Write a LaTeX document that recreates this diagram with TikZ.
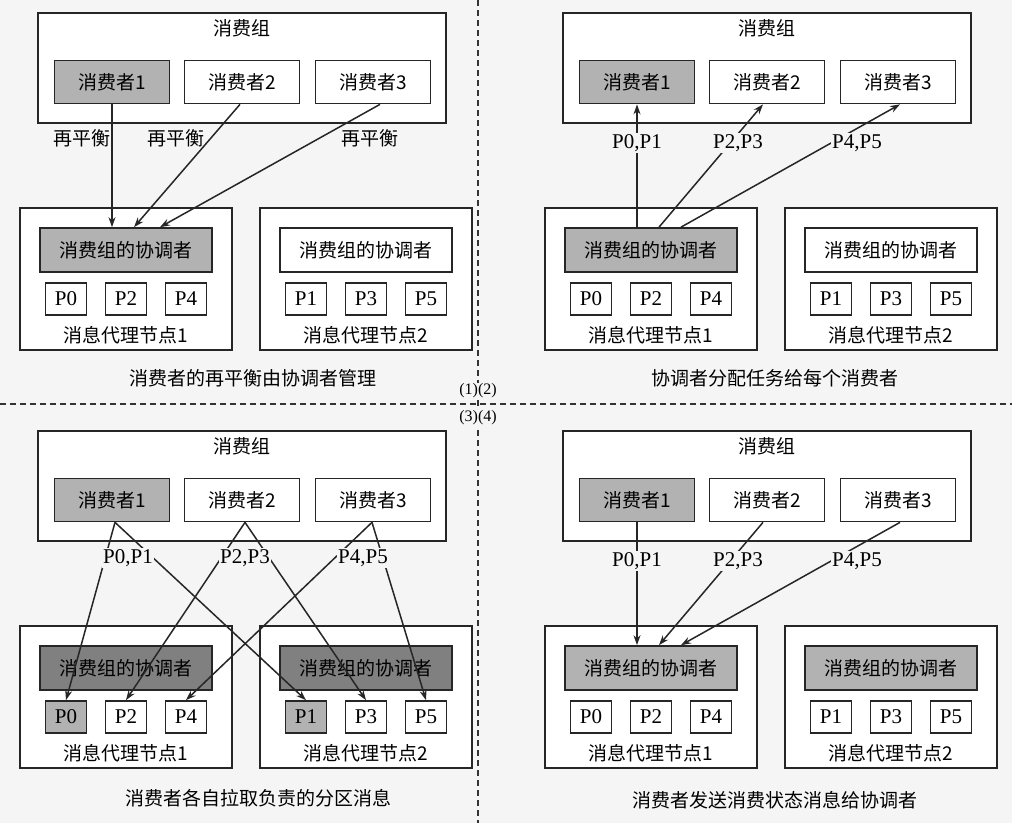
\documentclass[tikz,border=0pt]{standalone}
\usepackage{fontspec}
\setmainfont{Liberation Serif}
\newfontfamily\cjk{Noto Sans CJK SC}
\usetikzlibrary{arrows.meta}
\tikzset{
  box/.style={draw=black!85, line width=1.7pt, fill=white, inner sep=0pt, font=\fontsize{19}{21}\selectfont\cjk},
  txt/.style={inner sep=1pt, font=\fontsize{19}{21}\selectfont\cjk},
  ptxt/.style={inner sep=1pt, fill=black!4, font=\fontsize{21}{23}\selectfont},
  arr/.style={-{Stealth[length=10pt,width=7pt]}, line width=1.5pt, black!85},
  cons/.style={box, minimum width=115pt, minimum height=43pt},
  grp/.style={box, minimum width=408pt, minimum height=110pt},
  brk/.style={box, minimum width=212pt, minimum height=142pt},
  crd/.style={box, minimum width=172pt, minimum height=44pt},
  part/.style={box, minimum width=41pt, minimum height=32pt, font=\fontsize{21}{23}\selectfont},
}
\newcommand\myquad[5]{%
  \node[grp] (#1grp) at (242,-68) {};
  \node[txt] (#1gl) at (242,-28) {消费组};
  \node[cons, fill=#2] (#1c1) at (112,-82) {消费者1};
  \node[cons] (#1c2) at (242,-82) {消费者2};
  \node[cons] (#1c3) at (373,-82) {消费者3};
  \node[brk] (#1b1) at (126,-279) {};
  \node[crd, fill=#3] (#1k1) at (126,-250) {消费组的协调者};
  \node[part, fill=#4] (#1p0) at (66,-299) {P0};
  \node[part] (#1p2) at (126,-299) {P2};
  \node[part] (#1p4) at (186,-299) {P4};
  \node[txt] (#1l1) at (126,-335) {消息代理节点1};
  \node[brk] (#1b2) at (366,-279) {};
  \node[crd, fill=#5] (#1k2) at (366,-250) {消费组的协调者};
  \node[part, fill=#4] (#1p1) at (306,-299) {P1};
  \node[part] (#1p3) at (366,-299) {P3};
  \node[part] (#1p5) at (426,-299) {P5};
  \node[txt] (#1l2) at (366,-335) {消息代理节点2};
}
\begin{document}
\begin{tikzpicture}[x=1pt,y=1pt]
\useasboundingbox[fill=black!4] (0,0) rectangle (1012,-823);
\coordinate (hl) at (0,-404); \coordinate (hr) at (1012,-404);
\coordinate (vt) at (478,0); \coordinate (vb) at (478,-823);
\draw[dashed, dash pattern=on 6pt off 4pt, line width=1.3pt, black!80] (hl) -- (hr);
\draw[dashed, dash pattern=on 6pt off 4pt, line width=1.3pt, black!80] (vt) -- (vb);
\node[inner sep=1pt, fill=black!4, font=\fontsize{16}{18}\selectfont] (n12) at (478,-391) {(1)(2)};
\node[inner sep=1pt, fill=black!4, font=\fontsize{16}{18}\selectfont] (n34) at (478,-418) {(3)(4)};
\def\cs{black!30}
% Q1
\begin{scope}
  \myquad{a}{\cs}{\cs}{white}{white}
  \node[txt] (ar1) at (82,-138) {再平衡};
  \node[txt] (ar2) at (176,-138) {再平衡};
  \node[txt] (ar3) at (370,-138) {再平衡};
  \draw[arr] (ac1.south) -- (ak1.north -| ac1.south);
  \draw[arr] ([xshift=-2pt]ac2.south) -- ([xshift=8pt]ak1.north);
  \draw[arr] ([xshift=7pt]ac3.south) -- ([xshift=34pt]ak1.north);
  \node[txt] (acap) at (253,-378) {消费者的再平衡由协调者管理};
\end{scope}
% Q2
\begin{scope}[shift={(525,0)}]
  \myquad{b}{\cs}{\cs}{white}{white}
  \draw[arr] ([xshift=-14pt]bk1.north) -- ([xshift=-14pt]bk1.north |- bc1.south);
  \draw[arr] ([xshift=8pt]bk1.north) -- ([xshift=-4pt]bc2.south);
  \draw[arr] ([xshift=30pt]bk1.north) -- ([xshift=2pt]bc3.south);
  \node[ptxt] (bq1) at (112,-143) {P0,P1};
  \node[ptxt] (bq2) at (213,-143) {P2,P3};
  \node[ptxt] (bq3) at (332,-143) {P4,P5};
  \node[txt] (bcap) at (250,-378) {协调者分配任务给每个消费者};
\end{scope}
% Q3
\begin{scope}[shift={(0,-418)}]
  \myquad{c}{\cs}{black!50}{\cs}{black!50}
  \draw[arr] ([xshift=3pt]cc1.south) -- (cp0.north);
  \draw[arr] ([xshift=3pt]cc1.south) -- (cp1.north);
  \draw[arr] ([xshift=3pt]cc2.south) -- (cp2.north);
  \draw[arr] ([xshift=3pt]cc2.south) -- (cp3.north);
  \draw[arr] ([xshift=-1pt]cc3.south) -- (cp4.north);
  \draw[arr] ([xshift=-1pt]cc3.south) -- (cp5.north);
  \node[ptxt] (cq1) at (128,-140) {P0,P1};
  \node[ptxt] (cq2) at (245,-140) {P2,P3};
  \node[ptxt] (cq3) at (363,-140) {P4,P5};
  \node[txt] (ccap) at (258,-380) {消费者各自拉取负责的分区消息};
\end{scope}
% Q4
\begin{scope}[shift={(525,-418)}]
  \myquad{d}{\cs}{\cs}{white}{\cs}
  \draw[arr] (dc1.south) -- (dk1.north -| dc1.south);
  \draw[arr] ([xshift=-4pt]dc2.south) -- ([xshift=8pt]dk1.north);
  \draw[arr] ([xshift=2pt]dc3.south) -- ([xshift=30pt]dk1.north);
  \node[ptxt] (dq1) at (112,-143) {P0,P1};
  \node[ptxt] (dq2) at (213,-143) {P2,P3};
  \node[ptxt] (dq3) at (332,-143) {P4,P5};
  \node[txt] (dcap) at (250,-382) {消费者发送消费状态消息给协调者};
\end{scope}
\end{tikzpicture}
\end{document}
